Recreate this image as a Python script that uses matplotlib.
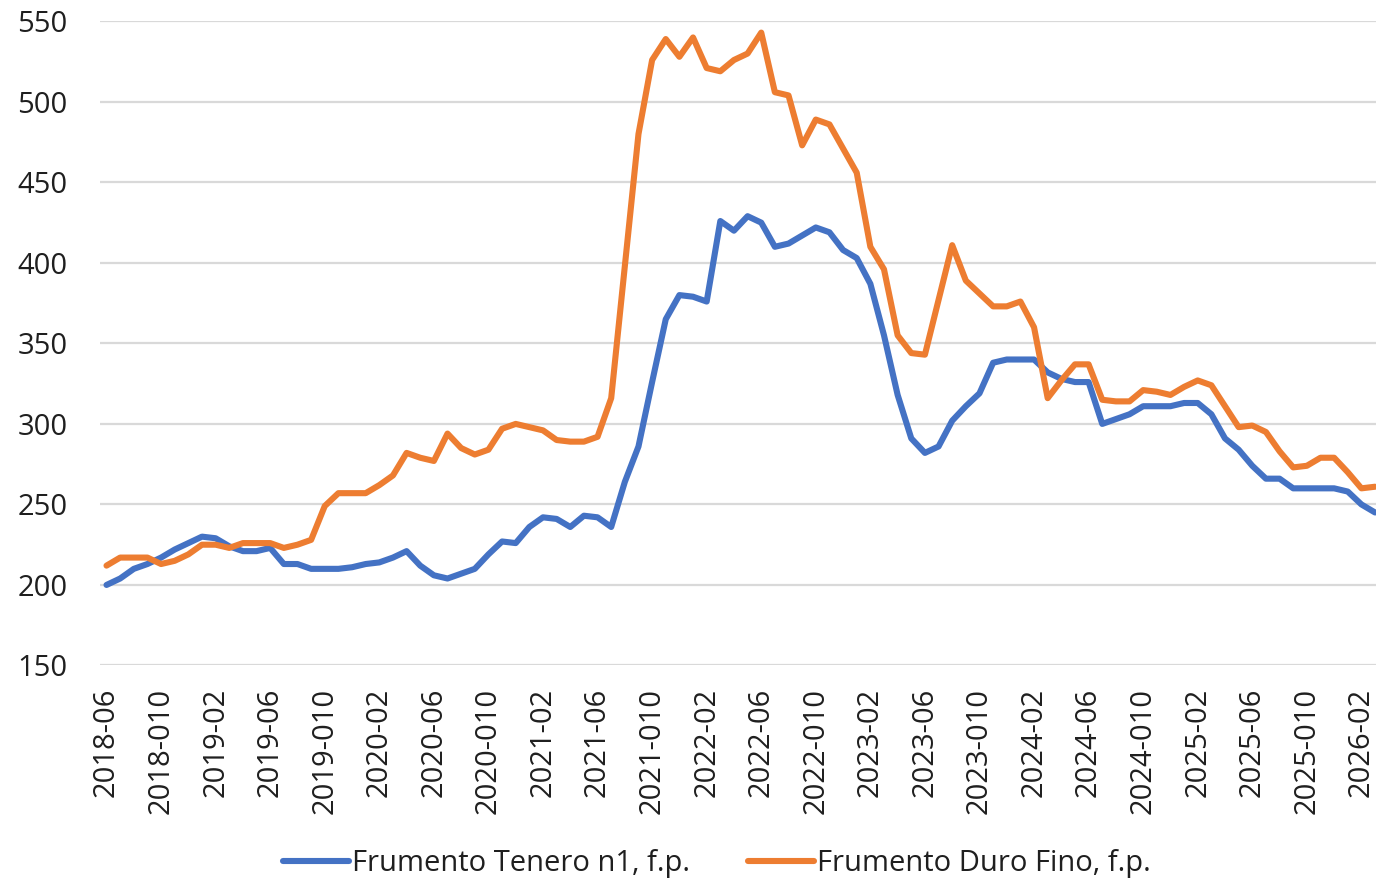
import matplotlib
matplotlib.use("Agg")
import matplotlib.pyplot as plt

plt.rcParams['font.family'] = ['Open Sans', 'DejaVu Sans']

# Dati mensili 2018-06 .. 2026-03 (€/t)
tenero = [200, 204, 210, 213, 217, 222, 226, 230, 229, 224,
          221, 221, 223, 213, 213, 210, 210, 210, 211, 213,
          214, 217, 221, 212, 206, 204, 207, 210, 219, 227,
          226, 236, 242, 241, 236, 243, 242, 236, 264, 286,
          326, 365, 380, 379, 376, 426, 420, 429, 425, 410,
          412, 417, 422, 419, 408, 403, 387, 355, 318, 291,
          282, 286, 302, 311, 319, 338, 340, 340, 340, 332,
          328, 326, 326, 300, 303, 306, 311, 311, 311, 313,
          313, 306, 291, 284, 274, 266, 266, 260, 260, 260,
          260, 258, 250, 245]
duro = [212, 217, 217, 217, 213, 215, 219, 225, 225, 223,
        226, 226, 226, 223, 225, 228, 249, 257, 257, 257,
        262, 268, 282, 279, 277, 294, 285, 281, 284, 297,
        300, 298, 296, 290, 289, 289, 292, 316, 398, 480,
        526, 539, 528, 540, 521, 519, 526, 530, 543, 506,
        504, 473, 489, 486, 471, 456, 410, 396, 355, 344,
        343, 377, 411, 389, 381, 373, 373, 376, 360, 316,
        327, 337, 337, 315, 314, 314, 321, 320, 318, 323,
        327, 324, 311, 298, 299, 295, 283, 273, 274, 279,
        279, 270, 260, 261]

tick_labels = ["2018-06", "2018-010", "2019-02", "2019-06", "2019-010", "2020-02",
               "2020-06", "2020-010", "2021-02", "2021-06", "2021-010", "2022-02",
               "2022-06", "2022-010", "2023-02", "2023-06", "2023-010", "2024-02",
               "2024-06", "2024-010", "2025-02", "2025-06", "2025-010", "2026-02"]

testo = '#1f1f1f'

fig = plt.figure(figsize=(13.76, 8.82), dpi=100)
ax = fig.add_axes([0.07245, 0.2455, 0.92755, 0.7303])

x = list(range(len(tenero)))
ax.plot(x, tenero, color='#4472C4', lw=4.4, solid_joinstyle='round',
        solid_capstyle='round', label='Frumento Tenero n1, f.p.')
ax.plot(x, duro, color='#ED7D31', lw=4.4, solid_joinstyle='round',
        solid_capstyle='round', label='Frumento Duro Fino, f.p.')

ax.set_ylim(150, 550)
ax.set_yticks(range(150, 551, 50))
ax.set_xlim(-0.5, 93.07)
ax.set_xticks(range(0, 4 * len(tick_labels), 4))
ax.set_xticklabels(tick_labels, rotation=90, va='top', ha='center')

ax.grid(axis='y', color='#d9d9d9', lw=1.6)
ax.set_axisbelow(True)
for s in ax.spines.values():
    s.set_visible(False)
ax.tick_params(axis='both', length=0, labelsize=21, colors=testo)
ax.tick_params(axis='y', pad=23)
ax.tick_params(axis='x', pad=16)

fig.legend(loc='center', bbox_to_anchor=(717 / 1376, 1 - 864 / 882),
           ncol=2, frameon=False, fontsize=21, handlelength=2.25,
           handletextpad=0.1, columnspacing=2.0, labelcolor=testo)

plt.savefig('out.png', dpi=100)
